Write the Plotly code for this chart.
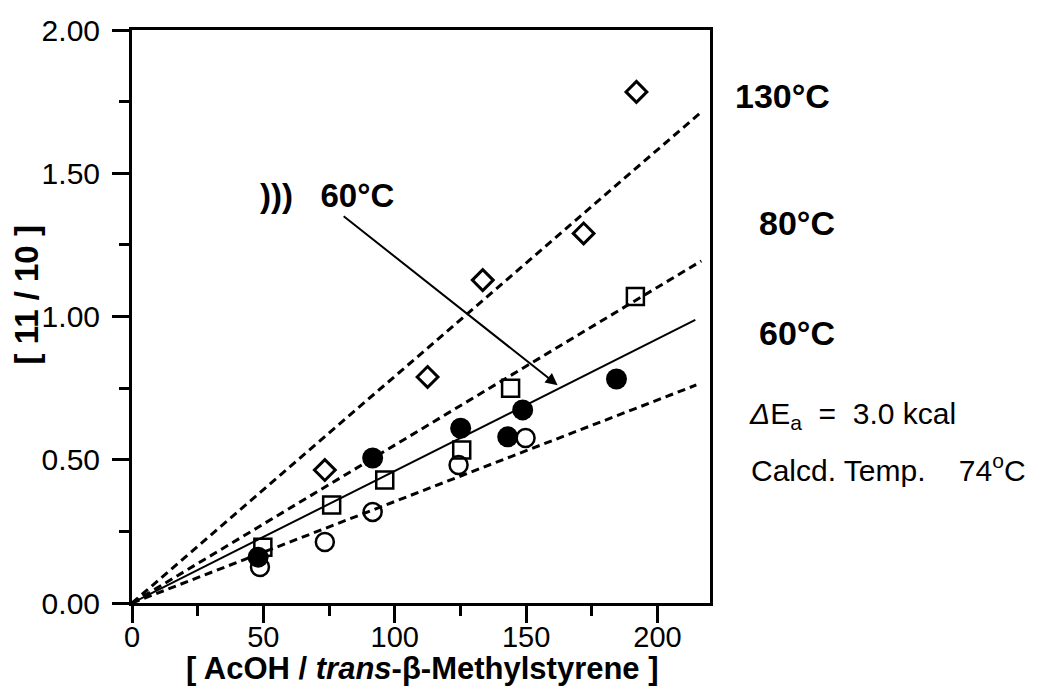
import plotly.graph_objects as go

# ---- data ----
# 130 °C (open diamonds)
x_130 = [73.4, 112.5, 133.5, 171.9, 192.0]
y_130 = [0.464, 0.789, 1.127, 1.290, 1.784]
# 80 °C (open squares)
x_80 = [49.8, 76.0, 96.2, 125.5, 144.1, 191.6]
y_80 = [0.195, 0.342, 0.429, 0.534, 0.750, 1.070]
# ))) 60 °C, ultrasound (filled circles)
x_us60 = [48.0, 91.6, 125.1, 143.0, 148.7, 184.4]
y_us60 = [0.160, 0.506, 0.610, 0.580, 0.674, 0.782]
# 60 °C (open circles)
x_60 = [48.7, 73.4, 91.6, 124.3, 149.8]
y_60 = [0.126, 0.213, 0.318, 0.482, 0.576]

# fitted lines through the origin (end points)
fit_130_x = [0, 216.7]
fit_130_y = [0, 1.714]
fit_80_x = [0, 216.7]
fit_80_y = [0, 1.194]
fit_us60_x = [0, 214.4]
fit_us60_y = [0, 0.988]
fit_60_x = [0, 214.8]
fit_60_y = [0, 0.761]

x_ticks = [0, 50, 100, 150, 200]
y_ticks = [0.0, 0.5, 1.0, 1.5, 2.0]

FONT = "Liberation Sans, Arial, Helvetica, sans-serif"
BLACK = "black"

fig = go.Figure()

dash = "8px,5px"
for fx, fy, d, w in [(fit_130_x, fit_130_y, dash, 3),
                     (fit_80_x, fit_80_y, dash, 3),
                     (fit_60_x, fit_60_y, dash, 3),
                     (fit_us60_x, fit_us60_y, "solid", 2)]:
    fig.add_trace(go.Scatter(x=fx, y=fy, mode="lines",
                             line=dict(color=BLACK, width=w, dash=d),
                             showlegend=False, hoverinfo="skip"))

fig.add_trace(go.Scatter(x=x_130, y=y_130, mode="markers",
                         marker=dict(symbol="diamond-open", size=16, color=BLACK,
                                     line=dict(width=3, color=BLACK)),
                         showlegend=False))
fig.add_trace(go.Scatter(x=x_80, y=y_80, mode="markers",
                         marker=dict(symbol="square-open", size=17, color=BLACK,
                                     line=dict(width=2.5, color=BLACK)),
                         showlegend=False))
fig.add_trace(go.Scatter(x=x_60, y=y_60, mode="markers",
                         marker=dict(symbol="circle-open", size=18, color=BLACK,
                                     line=dict(width=2.5, color=BLACK)),
                         showlegend=False))
fig.add_trace(go.Scatter(x=x_us60, y=y_us60, mode="markers",
                         marker=dict(symbol="circle", size=21, color=BLACK,
                                     line=dict(width=0)),
                         showlegend=False))

annotations = [
    dict(x=162, y=0.76, ax=80, ay=1.354, xref="x", yref="y", axref="x", ayref="y",
         text="", showarrow=True, arrowhead=2, arrowsize=1.2, arrowwidth=2,
         arrowcolor=BLACK),
    dict(x=74.4, y=1.424, xref="x", yref="y", text="<b>)))   60°C</b>", showarrow=False,
         font=dict(family=FONT, size=33, color=BLACK)),
    dict(x=1.040, y=0.885, xref="paper", yref="paper", xanchor="left", yanchor="middle",
         text="<b>130°C</b>", showarrow=False, font=dict(family=FONT, size=34, color=BLACK)),
    dict(x=1.081, y=0.663, xref="paper", yref="paper", xanchor="left", yanchor="middle",
         text="<b>80°C</b>", showarrow=False, font=dict(family=FONT, size=34, color=BLACK)),
    dict(x=1.081, y=0.471, xref="paper", yref="paper", xanchor="left", yanchor="middle",
         text="<b>60°C</b>", showarrow=False, font=dict(family=FONT, size=34, color=BLACK)),
    dict(x=1.064, y=0.328, xref="paper", yref="paper", xanchor="left", yanchor="middle",
         text="<i>Δ</i>E<sub>a</sub>  =  3.0 kcal", showarrow=False,
         font=dict(family=FONT, size=30, color=BLACK)),
    dict(x=1.068, y=0.236, xref="paper", yref="paper", xanchor="left", yanchor="middle",
         text="Calcd. Temp.    74<sup>o</sup>C", showarrow=False,
         font=dict(family=FONT, size=30, color=BLACK)),
    # axis titles
    dict(x=0.503, y=-0.114, xref="paper", yref="paper", xanchor="center", yanchor="middle",
         text="<b>[ AcOH / <i>trans</i>-β-Methylstyrene ]</b>", showarrow=False,
         font=dict(family=FONT, size=31, color=BLACK)),
    dict(x=-0.182, y=0.538, xref="paper", yref="paper", xanchor="center", yanchor="middle",
         text="<b>[ 11 / 10 ]</b>", showarrow=False, textangle=-90,
         font=dict(family=FONT, size=33, color=BLACK)),
]

fig.update_layout(
    width=1043, height=690,
    margin=dict(l=124, r=341, t=22, b=95),
    paper_bgcolor="white", plot_bgcolor="white",
    font=dict(family=FONT, color=BLACK),
    annotations=annotations,
    showlegend=False,
)

fig.update_xaxes(
    range=[0, 220], tickvals=x_ticks, ticktext=[str(v) for v in x_ticks],
    automargin=False,
    showgrid=False, zeroline=False,
    showline=True, linecolor=BLACK, linewidth=3, mirror=True,
    ticks="outside", ticklen=17, tickwidth=3, tickcolor=BLACK,
    minor=dict(dtick=25, ticks="outside", ticklen=10, tickwidth=3, tickcolor=BLACK, showgrid=False),
    tickfont=dict(family=FONT, size=29, color=BLACK),
    ticklabelstandoff=-11,
)
fig.update_yaxes(
    range=[0, 2.0], tickvals=y_ticks, ticktext=[f"{v:.2f}" for v in y_ticks],
    automargin=False,
    showgrid=False, zeroline=False,
    showline=True, linecolor=BLACK, linewidth=3, mirror=True,
    ticks="outside", ticklen=17, tickwidth=3, tickcolor=BLACK,
    minor=dict(dtick=0.25, ticks="outside", ticklen=10, tickwidth=3, tickcolor=BLACK, showgrid=False),
    tickfont=dict(family=FONT, size=30, color=BLACK),
    ticklabelstandoff=6,
)

fig.write_html("out.html")
